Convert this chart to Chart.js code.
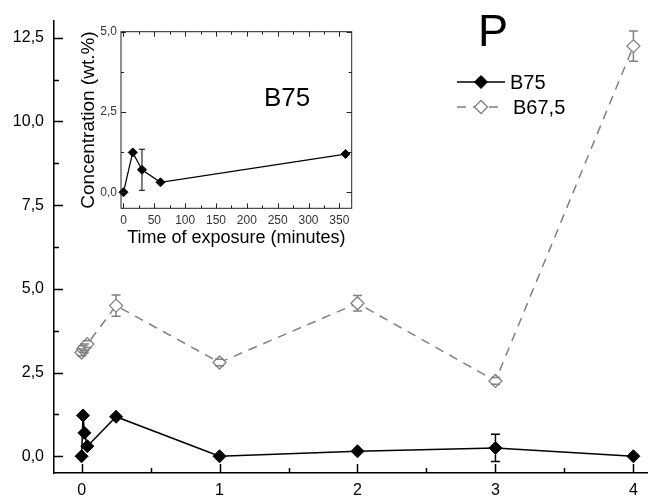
<!DOCTYPE html>
<html>
<head>
<meta charset="utf-8">
<script src="https://cdn.jsdelivr.net/npm/chart.js@4.4.0/dist/chart.umd.min.js"></script>
<style>
    html, body { margin: 0; padding: 0; background: #fff; }
    #wrap { position: relative; width: 655px; height: 497px; overflow: hidden; }
    #mainChart { position: absolute; left: 0; top: 0; }
    #insetChart { position: absolute; left: 70px; top: 0; }
</style>
</head>
<body>
<div id="wrap">
    <canvas id="mainChart" width="655" height="497"></canvas>
    <canvas id="insetChart" width="300" height="260"></canvas>
</div>
<script>
const FONT = '"Liberation Sans", Arial, Helvetica, sans-serif';

// main plot, time in days
const days = [0, 0.0104, 0.0208, 0.0417, 0.25, 1, 2, 3, 4];
const b75Values = [0, 1.22, 0.7, 0.3, 1.18, 0, 0.15, 0.25, 0];
const b75Errors = [0, 0, 0, 0, 0, 0, 0, 0.41, 0];
const b675Values = [3.1, 3.2, 3.25, 3.35, 4.5, 2.8, 4.57, 2.25, 12.25];
const b675Errors = [0.1, 0.1, 0.1, 0.1, 0.32, 0.1, 0.23, 0.1, 0.45];

const xMajor = [0, 1, 2, 3, 4];
const xMinor = [0.5, 1.5, 2.5, 3.5];
const yMajor = [0, 2.5, 5, 7.5, 10, 12.5];
const yMinor = [1.25, 3.75, 6.25, 8.75, 11.25];

// inset, time in minutes
const insetMinutes = [0, 15, 30, 60, 360];
const insetValues = [0, 1.24, 0.7, 0.31, 1.19];
const insetErrors = [0, 0, 0.64, 0, 0];

const insetXMajor = [0, 50, 100, 150, 200, 250, 300, 350];
const insetXMinor = [25, 75, 125, 175, 225, 275, 325];
const insetYMajor = [0, 2.5, 5];
const insetYMinor = [1.25, 3.75];

const GREY = '#808080';


function commaLabel(v) {
    return v.toFixed(1).replace('.', ',');
}


function setTicks(major, minor) {
    return (scale) => {
        scale.ticks = major.concat(minor).sort((a, b) => a - b).map((v) => ({ value: v }));
    };
}


function toPoints(xs, ys) {
    return xs.map((x, i) => ({ x: x, y: ys[i] }));
}


// ticks pointing into the plot, optionally mirrored on top/right
const inwardTicks = {
    id: 'inwardTicks',
    afterDraw(chart, args, opts) {
        const { ctx, chartArea: a } = chart;
        const xs = chart.scales.x;
        const ys = chart.scales.y;
        ctx.save();
        ctx.strokeStyle = opts.color;
        ctx.lineWidth = opts.width;
        ctx.beginPath();
        xs.ticks.forEach((t) => {
            const px = Math.round(xs.getPixelForValue(t.value)) + 0.5;
            const len = t.label ? opts.major : opts.minor;
            ctx.moveTo(px, a.bottom);
            ctx.lineTo(px, a.bottom - len);
            if (opts.mirror) {
                ctx.moveTo(px, a.top);
                ctx.lineTo(px, a.top + len);
            }
        });
        ys.ticks.forEach((t) => {
            const py = Math.round(ys.getPixelForValue(t.value)) + 0.5;
            const len = t.label ? opts.major : opts.minor;
            ctx.moveTo(a.left, py);
            ctx.lineTo(a.left + len, py);
            if (opts.mirror) {
                ctx.moveTo(a.right, py);
                ctx.lineTo(a.right - len, py);
            }
        });
        ctx.stroke();
        if (opts.frame) {
            ctx.strokeRect(a.left, a.top, a.right - a.left, a.bottom - a.top);
        }
        ctx.restore();
    }
};


const errorBars = {
    id: 'errorBars',
    afterDatasetsDraw(chart) {
        const { ctx } = chart;
        const xs = chart.scales.x;
        const ys = chart.scales.y;
        chart.data.datasets.forEach((ds) => {
            if (!ds.errors) return;
            ctx.save();
            ctx.strokeStyle = ds.borderColor;
            ctx.lineWidth = ds.errorWidth;
            ctx.setLineDash([]);
            ds.data.forEach((p, i) => {
                const e = ds.errors[i];
                if (!e) return;
                const px = xs.getPixelForValue(p.x);
                const py = ys.getPixelForValue(p.y);
                const top = ys.getPixelForValue(p.y + e);
                const bot = ys.getPixelForValue(p.y - e);
                const r = ds.pointRadius;
                const c = ds.capWidth / 2;
                ctx.beginPath();
                if (py - top > r) {
                    ctx.moveTo(px, top);
                    ctx.lineTo(px, py - r);
                    ctx.moveTo(px, py + r);
                    ctx.lineTo(px, bot);
                }
                ctx.moveTo(px - c, top);
                ctx.lineTo(px + c, top);
                ctx.moveTo(px - c, bot);
                ctx.lineTo(px + c, bot);
                ctx.stroke();
            });
            ctx.restore();
        });
    }
};


function drawDiamond(ctx, x, y, r, fill, stroke, width) {
    ctx.beginPath();
    ctx.moveTo(x - r, y);
    ctx.lineTo(x, y - r);
    ctx.lineTo(x + r, y);
    ctx.lineTo(x, y + r);
    ctx.closePath();
    ctx.fillStyle = fill;
    ctx.fill();
    ctx.setLineDash([]);
    ctx.strokeStyle = stroke;
    ctx.lineWidth = width;
    ctx.stroke();
}


// big element letter and the hand-placed legend
const annotations = {
    id: 'annotations',
    afterDraw(chart) {
        const { ctx } = chart;
        ctx.save();
        ctx.fillStyle = '#000';
        ctx.textBaseline = 'alphabetic';
        ctx.font = '45px ' + FONT;
        ctx.fillText('P', 478, 46);

        const rows = [82, 107];
        ctx.font = '20px ' + FONT;
        ctx.textBaseline = 'middle';
        chart.data.datasets.forEach((ds, i) => {
            const y = rows[i];
            ctx.beginPath();
            ctx.setLineDash(ds.borderDash || []);
            ctx.strokeStyle = ds.borderColor;
            ctx.lineWidth = ds.borderWidth;
            ctx.moveTo(457, y);
            ctx.lineTo(505, y);
            ctx.stroke();
            drawDiamond(ctx, 481, y, ds.pointRadius, ds.pointBackgroundColor, ds.borderColor, ds.pointBorderWidth);
            ctx.fillStyle = '#000';
            ctx.fillText(ds.label, i === 0 ? 510 : 513, y + 1);
        });
        ctx.restore();
    }
};


const insetLabel = {
    id: 'insetLabel',
    afterDraw(chart) {
        const { ctx } = chart;
        ctx.save();
        ctx.fillStyle = '#000';
        ctx.font = '26px ' + FONT;
        ctx.textBaseline = 'alphabetic';
        ctx.fillText('B75', 264 - 70, 106);
        ctx.restore();
    }
};


const mainChart = new Chart(document.getElementById('mainChart'), {
    type: 'scatter',
    data: {
        datasets: [
            {
                label: 'B75',
                data: toPoints(days, b75Values),
                errors: b75Errors,
                showLine: true,
                borderColor: '#000',
                borderWidth: 1.5,
                pointStyle: 'rectRot',
                pointRadius: 6.5,
                pointBackgroundColor: '#000',
                pointBorderColor: '#000',
                pointBorderWidth: 1,
                errorWidth: 1.5,
                capWidth: 9,
                clip: false,
                order: 0
            },
            {
                label: 'B67,5',
                data: toPoints(days, b675Values),
                errors: b675Errors,
                showLine: true,
                borderColor: GREY,
                borderWidth: 1.5,
                borderDash: [9, 7],
                pointStyle: 'rectRot',
                pointRadius: 6.5,
                pointBackgroundColor: '#fff',
                pointBorderColor: GREY,
                pointBorderWidth: 1.3,
                errorWidth: 1.5,
                capWidth: 9,
                clip: false,
                order: 1
            }
        ]
    },
    options: {
        responsive: false,
        animation: false,
        devicePixelRatio: 1,
        layout: { padding: { top: 21, right: 0, bottom: 0, left: 0 } },
        plugins: {
            legend: { display: false },
            tooltip: { enabled: false },
            inwardTicks: { color: '#000', width: 1.5, major: 9, minor: 5, mirror: false, frame: false }
        },
        scales: {
            x: {
                type: 'linear',
                min: -0.2,
                max: 4.1,
                afterBuildTicks: setTicks(xMajor, xMinor),
                afterFit: (s) => { s.height = 24; },
                grid: { display: false, drawTicks: false },
                border: { display: true, color: '#000', width: 1.5 },
                ticks: {
                    autoSkip: false,
                    maxRotation: 0,
                    padding: 8,
                    color: '#000',
                    font: { family: FONT, size: 16 },
                    callback: (v) => (xMajor.includes(v) ? String(v) : '')
                }
            },
            y: {
                type: 'linear',
                min: -0.5,
                max: 13,
                afterBuildTicks: setTicks(yMajor, yMinor),
                afterFit: (s) => { s.width = 54; },
                grid: { display: false, drawTicks: false },
                border: { display: true, color: '#000', width: 1.5 },
                ticks: {
                    autoSkip: false,
                    padding: 10,
                    color: '#000',
                    font: { family: FONT, size: 16 },
                    callback: (v) => (yMajor.includes(v) ? commaLabel(v) : '')
                }
            }
        }
    },
    plugins: [inwardTicks, errorBars, annotations]
});


const insetChart = new Chart(document.getElementById('insetChart'), {
    type: 'scatter',
    data: {
        datasets: [
            {
                label: 'B75',
                data: toPoints(insetMinutes, insetValues),
                errors: insetErrors,
                showLine: true,
                borderColor: '#000',
                borderWidth: 1.2,
                pointStyle: 'rectRot',
                pointRadius: 4.5,
                pointBackgroundColor: '#000',
                pointBorderColor: '#000',
                pointBorderWidth: 1,
                errorWidth: 1,
                capWidth: 6,
                clip: false
            }
        ]
    },
    options: {
        responsive: false,
        animation: false,
        devicePixelRatio: 1,
        layout: { padding: { top: 31.7, right: 18.3, bottom: 0, left: 0 } },
        plugins: {
            legend: { display: false },
            tooltip: { enabled: false },
            inwardTicks: { color: '#222', width: 1, major: 5, minor: 3, mirror: true, frame: true }
        },
        scales: {
            x: {
                type: 'linear',
                min: -4,
                max: 370,
                afterBuildTicks: setTicks(insetXMajor, insetXMinor),
                afterFit: (s) => { s.height = 51.7; },
                grid: { display: false, drawTicks: false },
                border: { display: false },
                ticks: {
                    autoSkip: false,
                    maxRotation: 0,
                    padding: 5,
                    color: '#333',
                    font: { family: FONT, size: 12 },
                    callback: (v) => (insetXMajor.includes(v) ? String(v) : '')
                },
                title: {
                    display: true,
                    text: 'Time of exposure (minutes)',
                    color: '#000',
                    font: { family: FONT, size: 18 },
                    padding: { top: 0, bottom: 11 }
                }
            },
            y: {
                type: 'linear',
                min: -0.5,
                max: 5,
                afterBuildTicks: setTicks(insetYMajor, insetYMinor),
                afterFit: (s) => { s.width = 51; },
                grid: { display: false, drawTicks: false },
                border: { display: false },
                ticks: {
                    autoSkip: false,
                    padding: 4,
                    color: '#333',
                    font: { family: FONT, size: 12 },
                    callback: (v) => (insetYMajor.includes(v) ? commaLabel(v) : '')
                },
                title: {
                    display: true,
                    text: 'Concentration (wt.%)',
                    color: '#000',
                    font: { family: FONT, size: 19 },
                    padding: { top: 7, bottom: 0 }
                }
            }
        }
    },
    plugins: [inwardTicks, errorBars, insetLabel]
});
</script>
</body>
</html>
